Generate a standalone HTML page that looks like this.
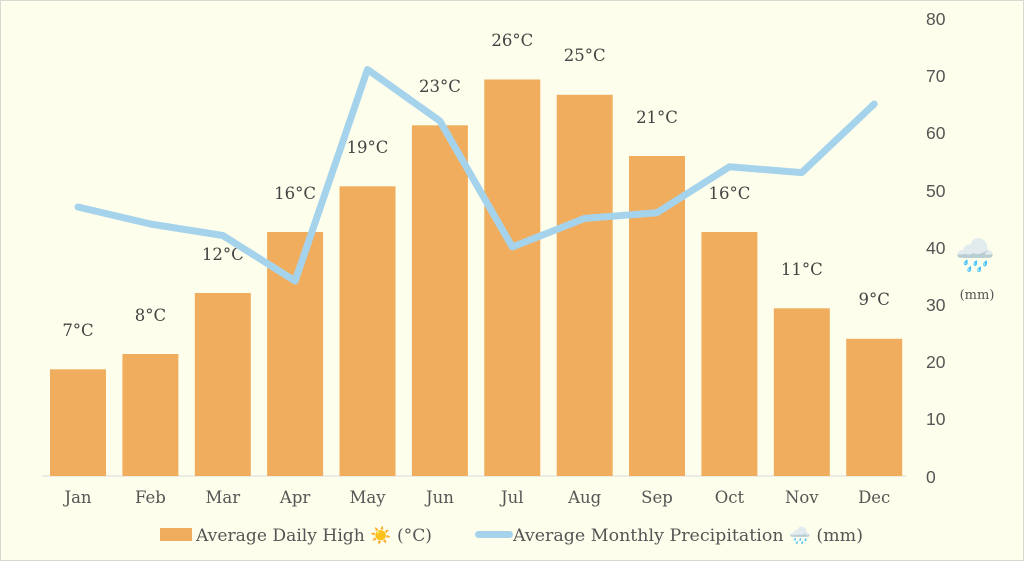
<!DOCTYPE html>
<html><head><meta charset="utf-8"><style>
html,body{margin:0;padding:0;background:#fff;}
svg{display:block;font-family:"DejaVu Serif","Liberation Serif",serif;}
</style></head><body>
<svg width="1024" height="561" viewBox="0 0 1024 561" xmlns="http://www.w3.org/2000/svg">
<rect x="0.5" y="0.5" width="1023" height="560" fill="#fefeec" stroke="#d8d8d0"/>
<line x1="42" y1="476" x2="906" y2="476" stroke="#d9d9d9" stroke-width="1"/>
<g fill="#f0ad5e">
<rect x="50" y="369.3" width="56" height="106.7"/>
<rect x="122.4" y="354" width="56" height="122"/>
<rect x="194.8" y="293" width="56" height="183"/>
<rect x="267.1" y="232" width="56" height="244"/>
<rect x="339.5" y="186.3" width="56" height="289.7"/>
<rect x="411.9" y="125.3" width="56" height="350.7"/>
<rect x="484.3" y="79.5" width="56" height="396.5"/>
<rect x="556.7" y="94.8" width="56" height="381.2"/>
<rect x="629" y="156" width="56" height="320"/>
<rect x="701.4" y="232" width="56" height="244"/>
<rect x="773.8" y="308.3" width="56" height="167.7"/>
<rect x="846.2" y="338.8" width="56" height="137.2"/>
</g>
<g fill="#444" font-size="16.5" text-anchor="middle">
<text x="78" y="336">7°C</text>
<text x="150.4" y="321">8°C</text>
<text x="222.8" y="260">12°C</text>
<text x="295.1" y="199">16°C</text>
<text x="367.5" y="153">19°C</text>
<text x="439.9" y="92">23°C</text>
<text x="512.3" y="46">26°C</text>
<text x="584.7" y="61">25°C</text>
<text x="657" y="123">21°C</text>
<text x="729.4" y="199">16°C</text>
<text x="801.8" y="275">11°C</text>
<text x="874.2" y="305">9°C</text>
</g>
<polyline fill="none" stroke="#a6d3ec" stroke-width="7" stroke-linejoin="round" stroke-linecap="round"
points="78,207 150.4,224 222.8,235.5 295.1,281 367.5,69.5 439.9,121 512.3,247 584.7,218.4 657,212.7 729.4,166.8 801.8,172.6 874.2,104"/>
<g fill="#555" font-size="16.5" text-anchor="middle">
<text x="78" y="503">Jan</text><text x="150.4" y="503">Feb</text><text x="222.8" y="503">Mar</text>
<text x="295.1" y="503">Apr</text><text x="367.5" y="503">May</text><text x="439.9" y="503">Jun</text>
<text x="512.3" y="503">Jul</text><text x="584.7" y="503">Aug</text><text x="657" y="503">Sep</text>
<text x="729.4" y="503">Oct</text><text x="801.8" y="503">Nov</text><text x="874.2" y="503">Dec</text>
</g>
<g fill="#555" font-size="17.5" font-family="Liberation Sans, sans-serif">
<text x="926" y="25">80</text><text x="926" y="82">70</text><text x="926" y="139">60</text>
<text x="926" y="197">50</text><text x="926" y="254">40</text><text x="926" y="311">30</text>
<text x="926" y="368">20</text><text x="926" y="425">10</text><text x="926" y="483">0</text>
</g>
<text x="975" y="266" font-size="32" text-anchor="middle">🌧️</text>
<text x="977" y="299" font-size="13" fill="#555" text-anchor="middle">(mm)</text>
<rect x="160" y="528" width="32" height="13" fill="#f0ad5e"/>
<text x="196" y="541" font-size="16.5" fill="#555" textLength="236" lengthAdjust="spacingAndGlyphs">Average Daily High ☀️ (°C)</text>
<rect x="475" y="531" width="38" height="7" rx="3.5" fill="#a6d3ec"/>
<text x="513" y="541" font-size="16.5" fill="#555" textLength="350" lengthAdjust="spacingAndGlyphs">Average Monthly Precipitation 🌧️ (mm)</text>
</svg>
</body></html>
